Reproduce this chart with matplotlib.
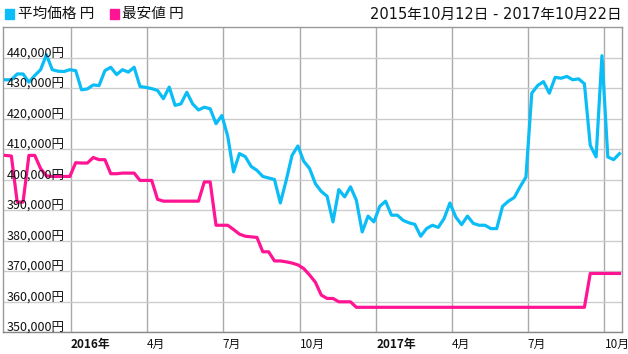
import matplotlib
matplotlib.use("Agg")
import matplotlib.pyplot as plt
from matplotlib.patches import Rectangle
from matplotlib.transforms import ScaledTranslation
import pandas as pd

plt.rcParams['font.family'] = ['Noto Sans CJK JP', 'DejaVu Sans']

# weekly samples
dates = pd.date_range("2015-10-15", periods=106, freq="7D")

avg_price = [
    432700, 432700, 434600, 434600, 431900, 434100, 436000, 440900, 436000, 435500,
    435400, 436000, 435700, 429400, 429700, 431000, 430800, 435700, 436800, 434400,
    436000, 435200, 436800, 430500, 430200, 429800, 429200, 426500, 430300, 424300,
    424800, 428600, 424800, 422800, 423700, 423200, 418300, 421000, 414200, 402500,
    408500, 407500, 404300, 403000, 401000, 400500, 400000, 392300, 399700, 407900,
    411000, 406000, 403600, 398600, 396100, 394500, 386100, 396700, 394300, 397600,
    393200, 382800, 388000, 386100, 391200, 392900, 388300, 388300, 386600, 385800,
    385300, 381400, 383900, 385000, 384300, 387200, 392300, 387700, 385200, 388000,
    385600, 385000, 385000, 383900, 383900, 391200, 392900, 394100, 397600, 400800,
    428300, 430800, 432100, 428300, 433500, 433200, 433800, 432700, 433000, 431400,
    411200, 407400, 440600, 407400, 406500, 408500,
]

min_price = [
    407900, 407700, 392600, 392600, 407900, 407900, 403600, 401200, 401000, 401000,
    401000, 401000, 405500, 405400, 405400, 407200, 406500, 406500, 401900, 401900,
    402100, 402100, 402100, 399700, 399700, 399700, 393500, 392900, 392900, 392900,
    392900, 392900, 392900, 392900, 399200, 399200, 385000, 385000, 385000, 383600,
    382100, 381400, 381200, 381000, 376300, 376300, 373300, 373300, 373000, 372600,
    372000, 370800, 368700, 366300, 362100, 361000, 361000, 359900, 359900, 359900,
] + [358100] * 40 + [369200] * 6

y_ticks = list(range(350000, 450000, 10000))
x_ticks = pd.to_datetime(["2016-01-01", "2016-04-01", "2016-07-01", "2016-10-01",
                          "2017-01-01", "2017-04-01", "2017-07-01", "2017-10-01"])
x_labels = ["2016年", "4月", "7月", "10月", "2017年", "4月", "7月", "10月"]

blue = "#0BBDF6"
pink = "#FF1493"

W, H = 628, 354
fig = plt.figure(figsize=(W / 100, H / 100), dpi=100)
ax = fig.add_axes([3 / W, (H - 332) / H, 619 / W, 305 / H])

ax.plot(dates, avg_price, color=blue, lw=2.3, zorder=3)
ax.plot(dates, min_price, color=pink, lw=2.3, zorder=3)

ax.set_ylim(350000, 450000)
ax.set_xlim(pd.Timestamp("2015-10-12"), pd.Timestamp("2017-10-22"))

ax.set_yticks(y_ticks)
ax.set_xticks(x_ticks)
ax.set_xticklabels(x_labels, ha="left", fontsize=8.5, color="#111111")
for lbl in ax.get_xticklabels():
    lbl.set_transform(lbl.get_transform() + ScaledTranslation(2 / 100, 0, fig.dpi_scale_trans))
    if "年" in lbl.get_text():
        lbl.set_fontweight("bold")
ax.tick_params(axis="both", length=0, labelleft=False, pad=4)
ax.grid(axis="y", color="#cccccc", lw=1)
ax.grid(axis="x", color="#aaaaaa", lw=1)
ax.set_axisbelow(True)
for s in ax.spines.values():
    s.set_color("#999999")
    s.set_linewidth(1)
ax.spines["bottom"].set_color("#888888")

# y labels drawn inside the plot
for v in y_ticks:
    ax.text(4 / 619, v, f"{v:,}円", transform=ax.get_yaxis_transform(),
            ha="left", va="baseline", fontsize=9, color="#111111", zorder=4)

# header
fig.add_artist(Rectangle((5 / W, 1 - 19 / H), 9 / W, 10 / H, transform=fig.transFigure,
                         color=blue))
fig.text(18 / W, 1 - 14 / H, "平均価格 円", va="center", fontsize=10.5, color="#111111")
fig.add_artist(Rectangle((110 / W, 1 - 19 / H), 9 / W, 10 / H, transform=fig.transFigure,
                         color=pink))
fig.text(122 / W, 1 - 14 / H, "最安値 円", va="center", fontsize=10.5, color="#111111")
fig.text(622 / W, 1 - 14 / H, "2015年10月12日 - 2017年10月22日", ha="right", va="center",
         fontsize=10.5, color="#111111", family=["DejaVu Sans", "Noto Sans CJK JP"])

fig.savefig("out.png", dpi=100)
